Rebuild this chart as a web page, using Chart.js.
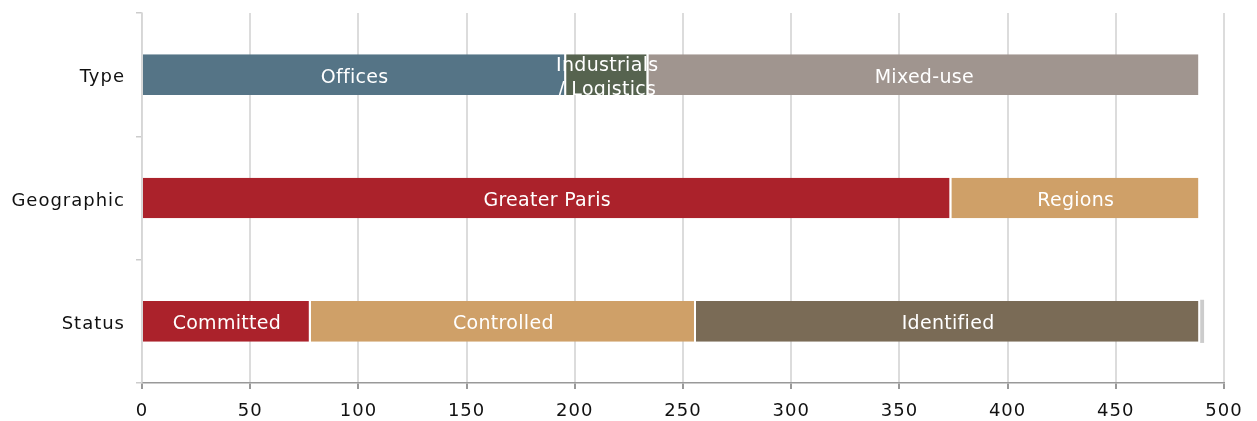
<!DOCTYPE html>
<html>
<head>
<meta charset="utf-8">
<script src="https://cdn.jsdelivr.net/npm/chart.js@4/dist/chart.umd.min.js"></script>
<style>
    html, body { margin: 0; padding: 0; background: #fff; }
    #wrap { width: 1257px; height: 421px; }
</style>
</head>
<body>
<div id="wrap"><canvas id="pipeline"></canvas></div>
<script>
/* ===================== DATA ===================== */

const categories = ["Type", "Geographic", "Status"];

const typeLabels = ["Offices", ["Industrials", "/ Logistics"], "Mixed-use"];
const typeValues = [196, 38, 255];
const typeColors = ["#557486", "#56634f", "#a0958f"];

const geoLabels = ["Greater Paris", "Regions"];
const geoValues = [374, 115];
const geoColors = ["#ab222b", "#cfa068"];

const statusLabels = ["Committed", "Controlled", "Identified", ""];
const statusValues = [78, 178, 233, 1.8];
const statusColors = ["#ab222b", "#cfa068", "#7a6b56", "#cccccc"];

const xTicks = [0, 50, 100, 150, 200, 250, 300, 350, 400, 450, 500];

/* ===================== DATASETS ===================== */

// one dataset per segment, placed on its own row only
function rowDatasets(rowIndex, labels, values, colors) {
    return values.map((v, i) => {
        const data = categories.map(() => null);
        data[rowIndex] = v;
        const isSliver = labels[i] === "";
        return {
            label: labels[i],
            data,
            backgroundColor: colors[i],
            borderColor: "#ffffff",
            borderWidth: isSliver ? 0 : { left: 0, right: 2, top: 0, bottom: 0 },
            borderSkipped: false,
            barPercentage: isSliver ? 0.35 : 0.33,
            stack: "all",
        };
    });
}

const datasets = [
    ...rowDatasets(0, typeLabels, typeValues, typeColors),
    ...rowDatasets(1, geoLabels, geoValues, geoColors),
    ...rowDatasets(2, statusLabels, statusValues, statusColors),
];

/* ===================== PLUGINS ===================== */

// a little tracking on axis text
const textSpacing = {
    id: "textSpacing",
    beforeDraw(chart) { chart.ctx.letterSpacing = "1px"; },
    afterDraw(chart) { chart.ctx.letterSpacing = "0px"; },
};

// white segment names centred in each bar piece
const segmentLabels = {
    id: "segmentLabels",
    afterDatasetsDraw(chart) {
        const ctx = chart.ctx;
        ctx.save();
        ctx.letterSpacing = "0.3px";
        ctx.font = "19px 'DejaVu Sans'";
        ctx.fillStyle = "#ffffff";
        ctx.textAlign = "center";
        ctx.textBaseline = "middle";
        chart.data.datasets.forEach((ds, di) => {
            const text = ds.label;
            if (!text) return;
            chart.getDatasetMeta(di).data.forEach((el, i) => {
                if (ds.data[i] == null) return;
                const cx = (el.x + el.base) / 2;
                const lines = Array.isArray(text) ? text : [text];
                const lh = 24;
                lines.forEach((ln, k) => {
                    ctx.fillText(ln, cx, el.y + 3 + (k - (lines.length - 1) / 2) * lh);
                });
            });
        });
        ctx.restore();
    },
};

/* ===================== CHART ===================== */

new Chart(document.getElementById("pipeline"), {
    type: "bar",
    data: { labels: categories, datasets },
    options: {
        indexAxis: "y",
        responsive: true,
        maintainAspectRatio: false,
        animation: false,
        layout: { padding: { top: 13, right: 33, bottom: 0, left: 0 } },
        datasets: {
            bar: { categoryPercentage: 1 },
        },
        plugins: {
            legend: { display: false },
            tooltip: { enabled: false },
        },
        scales: {
            x: {
                stacked: true,
                min: 0,
                max: 500,
                afterBuildTicks: s => { s.ticks = xTicks.map(v => ({ value: v })); },
                afterFit: s => { s.height = 38; },
                grid: {
                    color: "#dcdcdc",
                    lineWidth: 2,
                    tickLength: 6,
                    tickColor: "#999999",
                },
                border: { color: "#999999", width: 1.5 },
                ticks: {
                    color: "#111111",
                    font: { family: "'DejaVu Sans'", size: 18 },
                    padding: 12,
                    maxRotation: 0,
                },
            },
            y: {
                stacked: true,
                afterFit: s => {
                    s.width = 142;
                    s.paddingTop = 0;
                    s.paddingBottom = 0;
                },
                grid: {
                    offset: true,
                    drawOnChartArea: false,
                    tickLength: 6,
                    color: "#cccccc",
                    lineWidth: 1.5,
                },
                border: { color: "#d6d6d6", width: 1.5 },
                ticks: {
                    color: "#111111",
                    font: { family: "'DejaVu Sans'", size: 18 },
                    padding: 11,
                    labelOffset: 3,
                },
            },
        },
    },
    plugins: [textSpacing, segmentLabels],
});
</script>
</body>
</html>
